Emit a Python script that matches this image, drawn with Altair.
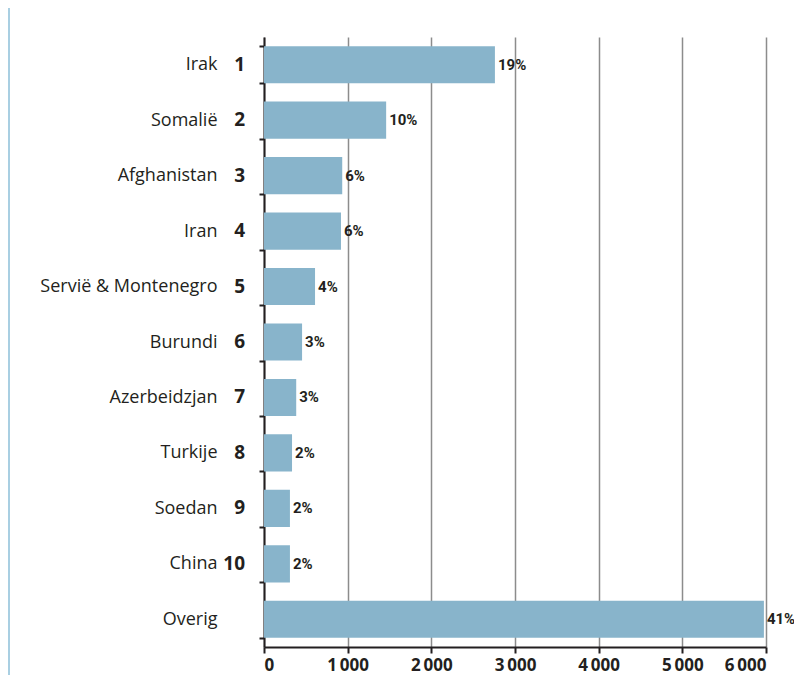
import altair as alt
import pandas as pd

# Data
landen = ["Irak", "Somalië", "Afghanistan", "Iran", "Servië & Montenegro",
          "Burundi", "Azerbeidzjan", "Turkije", "Soedan", "China", "Overig"]
rangen = ["1", "2", "3", "4", "5", "6", "7", "8", "9", "10", ""]
aantallen = [2760, 1460, 935, 920, 610, 455, 385, 335, 310, 310, 5975]
percentages = ["19%", "10%", "6%", "6%", "4%", "3%", "3%", "2%", "2%", "2%", "41%"]
x_ticks = [0, 1000, 2000, 3000, 4000, 5000, 6000]

df = pd.DataFrame({"land": landen, "rang": rangen, "aantal": aantallen, "pct": percentages})

FONT = "Open Sans"
PCT_FONT = "Roboto"
TEXT = "#231F20"
BAR = "#88B4CB"
GRID = "#8c8c8c"
FRAME = "#A9CFE2"

y_enc = alt.Y(
    "land:N", sort=landen,
    scale=alt.Scale(paddingInner=0.33, paddingOuter=0.165),
    axis=alt.Axis(
        title=None, tickBand="extent", ticks=True, tickSize=5, tickWidth=2,
        tickColor=TEXT, domainColor=TEXT, domainWidth=2, grid=False,
        labelFont=FONT, labelFontSize=18, labelColor=TEXT, labelPadding=42,
        labelFontWeight=500,
    ),
)
x_enc = alt.X(
    "aantal:Q",
    scale=alt.Scale(domain=[0, 6000], nice=False),
    axis=alt.Axis(
        title=None, values=x_ticks,
        labelExpr="replace(format(datum.value, ','), ',', '\u2009')",
        grid=True, gridColor=GRID, gridWidth=1.5,
        tickSize=6, tickWidth=2, tickColor=TEXT,
        domainColor=TEXT, domainWidth=2,
        labelFont=FONT, labelFontSize=17, labelFontWeight="bold",
        labelColor=TEXT, labelPadding=4,
    ),
)

bars = alt.Chart(df).mark_bar(color=BAR).encode(x=x_enc, y=y_enc)

pct = alt.Chart(df).mark_text(
    align="left", baseline="middle", dx=3, font=PCT_FONT, fontSize=15,
    fontWeight="bold", color=TEXT,
).encode(x="aantal:Q", y=alt.Y("land:N", sort=landen), text="pct:N")

rank = alt.Chart(df).mark_text(
    align="right", baseline="middle", font=FONT, fontSize=19,
    fontWeight="bold", color=TEXT,
).encode(x=alt.value(-19), y=alt.Y("land:N", sort=landen), text="rang:N")

frame = alt.Chart(pd.DataFrame({"a": [0]})).mark_rule(
    color=FRAME, strokeWidth=2
).encode(x=alt.value(-255), y=alt.value(-29), y2=alt.value(638))

chart = alt.layer(frame, bars, pct, rank).properties(
    width=502, height=610,
    autosize=alt.AutoSizeParams(type="none"),
    padding={"left": 256, "top": 29, "right": 28, "bottom": 28},
).configure_view(stroke=None)

chart.save("out.html", embed_options={"renderer": "svg", "actions": False})
